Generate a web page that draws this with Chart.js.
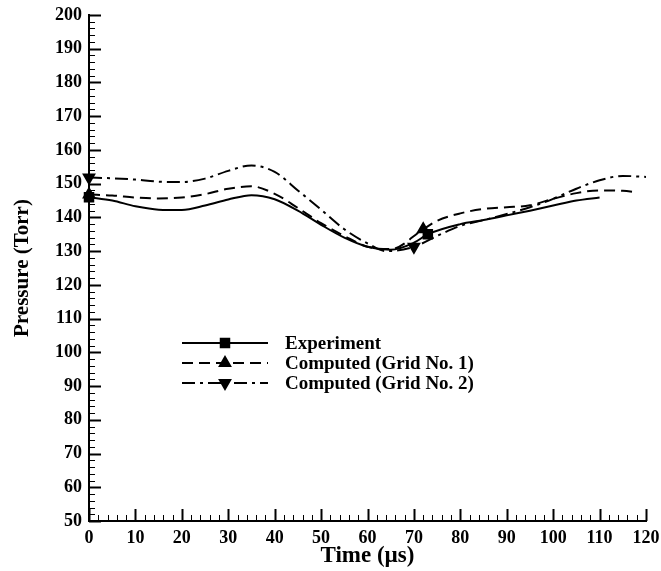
<!DOCTYPE html>
<html>
<head>
<meta charset="utf-8">
<script src="https://cdn.jsdelivr.net/npm/chart.js@4.4.1/dist/chart.umd.min.js"></script>
<style>
html, body { margin: 0; padding: 0; background: #fff; }
</style>
</head>
<body>
<canvas id="mychart" width="661" height="571"></canvas>
<script>
// values
const seriesNames = ['Experiment', 'Computed (Grid No. 1)', 'Computed (Grid No. 2)'];

const expTime = [0, 5, 10, 15, 20, 25, 30, 35, 40, 45, 50, 55, 60, 65, 70, 73, 80, 85, 90, 95, 100, 105, 110];
const expPressure = [146.0, 145.0, 143.3, 142.3, 142.2, 143.5, 145.3, 146.6, 145.4, 142.0, 137.8, 134.0, 131.3, 130.4, 132.5, 135.0, 138.0, 139.2, 140.6, 142.0, 143.5, 145.0, 145.9];
const expMarkers = [0, 73];

const grid1Time = [0, 5, 10, 15, 20, 25, 30, 35, 40, 45, 50, 55, 60, 65, 72, 75, 80, 85, 90, 95, 100, 105, 110, 115, 118];
const grid1Pressure = [146.8, 146.5, 145.9, 145.6, 145.9, 146.9, 148.5, 149.2, 147.0, 142.8, 138.3, 134.5, 131.3, 130.6, 136.5, 139.0, 141.2, 142.5, 143.0, 143.6, 145.5, 147.2, 148.0, 147.9, 147.4];
const grid1Markers = [0, 72];

const grid2Time = [0, 5, 10, 15, 20, 25, 30, 35, 40, 45, 50, 55, 60, 64, 70, 75, 80, 85, 90, 95, 100, 105, 110, 115, 120];
const grid2Pressure = [151.8, 151.6, 151.2, 150.6, 150.5, 151.5, 153.8, 155.4, 153.5, 148.0, 142.3, 136.5, 132.3, 130.0, 131.3, 134.5, 137.5, 139.2, 141.0, 143.0, 145.5, 148.5, 151.0, 152.3, 152.0];
const grid2Markers = [0, 70];

const xTicks = [0, 10, 20, 30, 40, 50, 60, 70, 80, 90, 100, 110, 120];
const yTicks = [50, 60, 70, 80, 90, 100, 110, 120, 130, 140, 150, 160, 170, 180, 190, 200];

const FONT = "'Liberation Serif', 'Times New Roman', serif";

const styles = [
    { dash: [], pointStyle: 'rect', rotation: 0 },
    { dash: [11, 6], pointStyle: 'triangle', rotation: 0 },
    { dash: [13, 5, 3, 5], pointStyle: 'triangle', rotation: 180 }
];

function makeSet(i, times, values, markers) {
    return {
        label: seriesNames[i],
        data: times.map((t, k) => ({ x: t, y: values[k] })),
        showLine: true,
        borderColor: '#000',
        backgroundColor: '#000',
        borderWidth: 2,
        borderDash: styles[i].dash,
        cubicInterpolationMode: 'monotone',
        pointStyle: styles[i].pointStyle,
        rotation: styles[i].rotation,
        pointRadius: times.map(t => markers.includes(t) ? 6 : 0),
        pointHoverRadius: 0,
        clip: 8
    };
}

// ticks pointing into the plot, major every 10, minor every 2
const innerTicks = {
    id: 'innerTicks',
    afterDraw(chart) {
        const ctx = chart.ctx;
        const xs = chart.scales.x, ys = chart.scales.y;
        const area = chart.chartArea;
        ctx.save();
        ctx.strokeStyle = '#000';
        for (let v = 0; v <= 120; v += 2) {
            const major = v % 10 === 0;
            const px = Math.round(xs.getPixelForValue(v)) + 0.5;
            ctx.lineWidth = major ? 2 : 1;
            ctx.beginPath();
            ctx.moveTo(px, area.bottom);
            ctx.lineTo(px, area.bottom - (major ? 12 : 6));
            ctx.stroke();
        }
        for (let v = 50; v <= 200; v += 2) {
            const major = v % 10 === 0;
            const py = Math.round(ys.getPixelForValue(v)) + 0.5;
            ctx.lineWidth = major ? 2 : 1;
            ctx.beginPath();
            ctx.moveTo(area.left, py);
            ctx.lineTo(area.left + (major ? 12 : 6), py);
            ctx.stroke();
        }
        ctx.restore();
    }
};

const insideLegend = {
    id: 'insideLegend',
    afterDraw(chart) {
        const ctx = chart.ctx;
        const rows = [343, 363, 383];
        ctx.save();
        ctx.strokeStyle = '#000';
        ctx.fillStyle = '#000';
        ctx.font = 'bold 19px ' + FONT;
        ctx.textBaseline = 'middle';
        rows.forEach((y, i) => {
            ctx.lineWidth = 2;
            ctx.setLineDash(styles[i].dash);
            ctx.beginPath();
            ctx.moveTo(182, y);
            ctx.lineTo(268, y);
            ctx.stroke();
            ctx.setLineDash([]);
            Chart.helpers.drawPoint(ctx, {
                pointStyle: styles[i].pointStyle,
                radius: 6,
                rotation: styles[i].rotation,
                borderWidth: 1
            }, 225, y);
            ctx.fill();
            ctx.fillText(seriesNames[i], 285, y + 1);
        });
        ctx.restore();
    }
};

const ctx = document.getElementById('mychart');

new Chart(ctx, {
    type: 'scatter',
    data: {
        datasets: [
            makeSet(0, expTime, expPressure, expMarkers),
            makeSet(1, grid1Time, grid1Pressure, grid1Markers),
            makeSet(2, grid2Time, grid2Pressure, grid2Markers)
        ]
    },
    options: {
        responsive: false,
        animation: false,
        layout: { padding: { top: 15, right: 15 } },
        plugins: {
            legend: { display: false },
            tooltip: { enabled: false }
        },
        scales: {
            x: {
                type: 'linear',
                min: 0,
                max: 120,
                afterBuildTicks: s => { s.ticks = xTicks.map(v => ({ value: v })); },
                afterFit: s => { s.height = 50; s.paddingRight = 0; s.paddingLeft = 0; },
                ticks: { color: '#000', padding: 7, font: { family: FONT, size: 18, weight: 'bold' } },
                grid: { display: false, drawTicks: false },
                border: { display: true, color: '#000', width: 2 },
                title: {
                    display: true,
                    text: 'Time (\u00b5s)',
                    color: '#000',
                    padding: { top: 1, bottom: 1 },
                    font: { family: FONT, size: 23, weight: 'bold' }
                }
            },
            y: {
                min: 50,
                max: 200,
                afterBuildTicks: s => { s.ticks = yTicks.map(v => ({ value: v })); },
                afterFit: s => { s.width = 89; s.paddingTop = 0; s.paddingBottom = 0; },
                ticks: { color: '#000', padding: 7, font: { family: FONT, size: 18, weight: 'bold' } },
                grid: { display: false, drawTicks: false },
                border: { display: true, color: '#000', width: 2 },
                title: {
                    display: true,
                    text: 'Pressure (Torr)',
                    color: '#000',
                    padding: { top: 10, bottom: 0 },
                    font: { family: FONT, size: 21, weight: 'bold' }
                }
            }
        }
    },
    plugins: [innerTicks, insideLegend]
});
</script>
</body>
</html>
